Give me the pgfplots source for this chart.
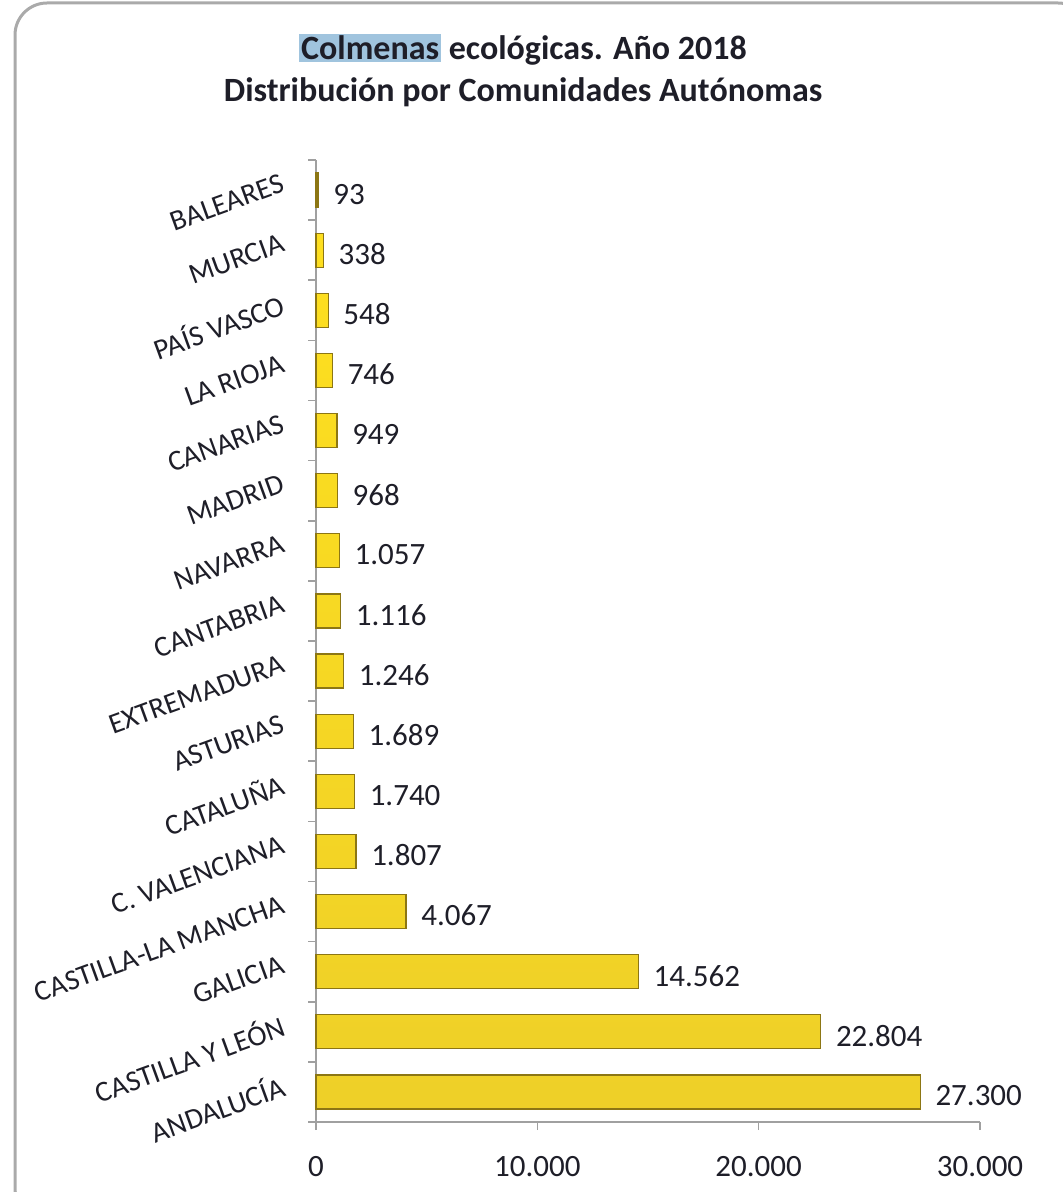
\documentclass[border=0pt]{standalone}
\usepackage{pgfplots}
\pgfplotsset{compat=1.18}
\usepackage{fontspec}
\setmainfont{Carlito}
\definecolor{axisgray}{RGB}{160,160,160}
\definecolor{framegray}{RGB}{170,170,170}
\definecolor{hl}{RGB}{160,196,222}
\definecolor{bartop}{RGB}{255,224,30}
\definecolor{barmid}{RGB}{255,240,115}
\definecolor{barbot}{RGB}{238,208,40}
\definecolor{baredge}{RGB}{140,118,20}
\definecolor{txt}{RGB}{30,30,40}
\begin{document}
\begin{tikzpicture}
\path[use as bounding box] (0,0) rectangle (531.5pt,-596pt);
\draw[framegray, line width=1.5pt, rounded corners=16pt] (7.5pt,-1.5pt) rectangle (545pt,-610pt);
\node[anchor=base, font=\bfseries\fontsize{17}{21}\selectfont, text=txt, inner sep=0pt]
  at (261.5pt,-30pt) {{\setlength{\fboxsep}{1pt}\colorbox{hl}{Colmenas}} ecológicas. Año 2018};
\node[anchor=base, font=\bfseries\fontsize{17}{21}\selectfont, text=txt, inner sep=0pt]
  at (261.5pt,-51pt) {Distribución por Comunidades Autónomas};
\begin{axis}[
  at={(158pt,-561pt)}, anchor=south west,
  scale only axis, width=332pt, height=481pt,
  xmin=0, xmax=30000, ymin=-0.5, ymax=15.5,
  axis lines*=left,
  axis line style={draw=axisgray, line width=0.8pt},
  xtick={0,10000,20000,30000}, scaled x ticks=false,
  ytick={-0.5,0.5,...,15.5}, yticklabels={},
  extra y ticks={0,1,...,15},
  extra y tick labels={ANDALUCÍA,CASTILLA Y LEÓN,GALICIA,CASTILLA-LA MANCHA,C. VALENCIANA,CATALUÑA,ASTURIAS,EXTREMADURA,CANTABRIA,NAVARRA,MADRID,CANARIAS,LA RIOJA,PAÍS VASCO,MURCIA,BALEARES},
  extra y tick style={tick style={draw=none}},
  tick align=outside, major tick length=4pt,
  tick style={draw=axisgray, line width=0.8pt},
  tick label style={font=\fontsize{15.5}{18}\selectfont, text=txt},
  xticklabel style={/pgf/number format/1000 sep={.}, yshift=-9.5pt},
  yticklabel style={font=\fontsize{14.5}{17}\selectfont, rotate=20, anchor=east, xshift=-7pt, yshift=8pt},
  /pgf/number format/assume math mode=true,
  point meta=x,
  nodes near coords,
  nodes near coords style={font=\fontsize{15.5}{18}\selectfont, text=txt, anchor=west, xshift=4pt, yshift=-2pt,
    /pgf/number format/1000 sep={.}, /pgf/number format/assume math mode=true},
  clip=false,
]
\addplot[xbar, bar width=17pt, bar shift=0pt, draw=baredge, line width=0.6pt,
  top color=bartop, middle color=barmid, bottom color=barbot]
coordinates {
(27300,0) (22804,1) (14562,2) (4067,3) (1807,4) (1740,5) (1689,6) (1246,7)
(1116,8) (1057,9) (968,10) (949,11) (746,12) (548,13) (338,14) (93,15)
};
\end{axis}
\end{tikzpicture}
\end{document}
